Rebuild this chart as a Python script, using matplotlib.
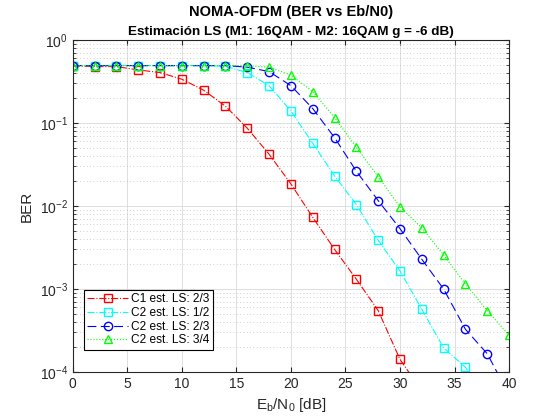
import matplotlib
matplotlib.use("Agg")
import matplotlib.pyplot as plt
import numpy as np

plt.rcParams.update({
    'font.family': ['Liberation Sans', 'DejaVu Sans'],
    'mathtext.fontset': 'custom',
    'mathtext.rm': 'Liberation Sans',
    'mathtext.it': 'Liberation Sans',
    'font.size': 10,
})

# Eb/N0 (dB)
ebn0 = [0, 2, 4, 6, 8, 10, 12, 14, 16, 18, 20, 22, 24, 26, 28, 30, 32, 34, 36, 38, 40]

ber_c1_23 = [0.486, 0.477, 0.477, 0.435, 0.404, 0.336, 0.248, 0.159, 0.0863, 0.042,
             0.0184, 0.0073, 0.0030, 0.00131, 0.00055, 0.000142, 5.9e-5]
ber_c2_12 = [0.49, 0.49, 0.49, 0.49, 0.49, 0.49, 0.49, 0.48, 0.404, 0.281,
             0.139, 0.0569, 0.023, 0.0104, 0.00386, 0.00165, 0.00057, 0.000195,
             0.000114, 4.5e-5]
ber_c2_23 = [0.49, 0.49, 0.49, 0.49, 0.49, 0.49, 0.49, 0.49, 0.47, 0.415,
             0.281, 0.149, 0.0665, 0.0262, 0.0116, 0.00533, 0.00228, 0.0010,
             0.000327, 0.000166, 5.3e-5]
ber_c2_34 = [0.49, 0.49, 0.49, 0.49, 0.49, 0.49, 0.49, 0.49, 0.49, 0.469,
             0.376, 0.239, 0.116, 0.0509, 0.0225, 0.0098, 0.00543, 0.00257,
             0.00115, 0.000548, 0.000277]

series = [
    (ber_c1_23, 'C1 est. LS: 2/3', (1, 0, 0), '-.', 's'),
    (ber_c2_12, 'C2 est. LS: 1/2', (0, 1, 1), '-.', 's'),
    (ber_c2_23, 'C2 est. LS: 2/3', (0, 0, 1), (0, (8, 4)), 'o'),
    (ber_c2_34, 'C2 est. LS: 3/4', (0, 1, 0), ':', '^'),
]

fig = plt.figure(figsize=(5.6, 4.2), dpi=100)
ax = fig.add_axes([0.130, 0.1143, 0.779, 0.7907])

for ber, lbl, col, ls, mk in series:
    ax.semilogy(ebn0[:len(ber)], ber, color=col, linestyle=ls, marker=mk,
                markersize=6, markerfacecolor='none', markeredgecolor=col,
                linewidth=0.8, label=lbl)

ax.set_xlim(0, 40)
ax.set_ylim(1e-4, 1)
ax.set_xticks(np.arange(0, 41, 5))
ax.set_yticks([1e-4, 1e-3, 1e-2, 1e-1, 1])
ax.grid(True, which='major', color=(0.85, 0.85, 0.85), linewidth=0.6)
ax.grid(True, which='minor', axis='y', color=(0.75, 0.75, 0.75),
        linestyle=(0, (1, 3)), linewidth=0.6)
ax.tick_params(which='both', direction='in', top=True, right=True,
               colors=(0.15, 0.15, 0.15), labelsize=10)
ax.tick_params(which='minor', length=2)
for s in ax.spines.values():
    s.set_color((0.15, 0.15, 0.15))
    s.set_linewidth(0.8)

ax.set_xlabel(r'E$_\mathrm{b}$/N$_\mathrm{0}$ [dB]', fontsize=11, color=(0.15, 0.15, 0.15))
ax.set_ylabel('BER', fontsize=11, color=(0.15, 0.15, 0.15))

fig.text(0.52, 0.972, 'NOMA-OFDM (BER vs Eb/N0)', ha='center', va='center',
         fontsize=10.5, fontweight='bold')
fig.text(0.52, 0.925, 'Estimación LS (M1: 16QAM - M2: 16QAM g = -6 dB)',
         ha='center', va='center', fontsize=9.7, fontweight='bold')

leg = ax.legend(loc='lower left', bbox_to_anchor=(0.025, 0.066), fontsize=8.6,
                fancybox=False, edgecolor='black', framealpha=1,
                handlelength=3.4, borderpad=0.3, labelspacing=0.15,
                handletextpad=0.3, borderaxespad=0)
leg.get_frame().set_linewidth(0.8)

fig.savefig('out.png', dpi=100, facecolor='white')
